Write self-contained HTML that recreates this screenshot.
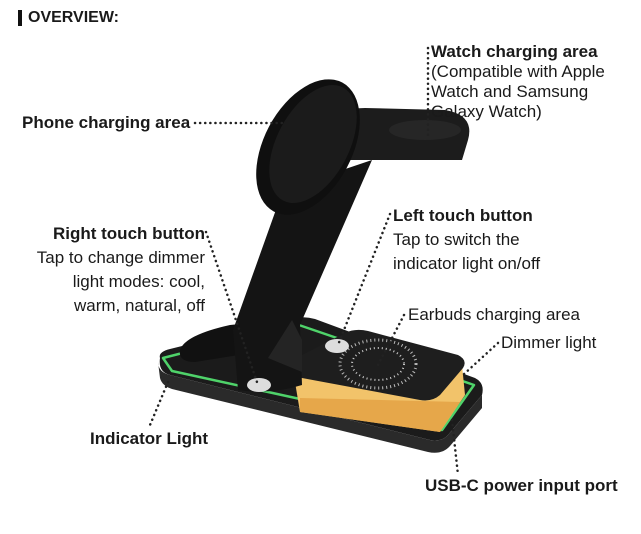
<!DOCTYPE html>
<html><head><style>
body{margin:0;width:641px;height:534px;background:#fff;overflow:hidden;position:relative;font-family:"Liberation Sans",sans-serif;color:#1a1a1a}
.t{position:absolute;font-size:17px;line-height:20px;white-space:nowrap}
.b{font-weight:bold}
.r{text-align:right}
</style></head><body>
<svg width="641" height="534" style="position:absolute;left:0;top:0">
<rect x="18" y="10" width="4" height="16" fill="#111"/>
<!-- base -->
<path d="M160,358 Q158,352 170,349 L295,318 Q305,316 315,319 L475,378 Q485,383 482,395 L448,435 Q442,442 430,440 L170,375 Q158,372 160,358Z" fill="#1b1b1b"/>
<path d="M158,362 L160,378 Q162,386 172,389 L428,452 Q442,455 450,446 L482,408 L482,395 L448,435 Q442,442 430,440 L170,375 Q158,372 158,362Z" fill="#2a2a2a"/>
<path d="M163,358 L296,324 L474,385 L442,430 L172,371Z" fill="none" stroke="#4fd36a" stroke-width="2.5" stroke-linejoin="round"/>
<!-- earbud pad -->
<path d="M293,370 L300,412 L440,432 L465,395 L462,365Z" fill="#f2c36a"/>
<path d="M300,398 L300,412 L440,432 L460,402 Z" fill="#e6a74a"/>
<path d="M293,370 Q292,362 300,356 L345,333 Q355,328 368,331 L458,355 Q468,360 463,368 L440,395 Q432,402 420,400 L302,378 Q294,376 293,370Z" fill="#1e1e1e"/>
<ellipse cx="378" cy="364" rx="38" ry="24" fill="none" stroke="#bbb" stroke-width="3" stroke-dasharray="1 3"/>
<ellipse cx="378" cy="364" rx="26" ry="16" fill="none" stroke="#ccc" stroke-width="2" stroke-dasharray="1 3"/>
<!-- left pod -->
<path d="M180,350 Q185,335 230,325 L260,322 L270,350 L195,362 Q178,362 180,350Z" fill="#111"/>
<!-- watch arm -->
<path d="M330,125 Q340,108 365,108 L445,110 Q475,115 468,140 L462,160 L345,160Z" fill="#1c1c1c"/>
<ellipse cx="425" cy="130" rx="36" ry="10" fill="#262626"/>
<!-- stand column -->
<path d="M283,190 L372,160 L300,325 L302,385 Q270,395 238,390 L233,330Z" fill="#141414"/>
<path d="M292,320 L268,358 L302,372 L302,340Z" fill="#242424"/>
<!-- disc -->
<ellipse cx="308" cy="147" rx="44" ry="73" transform="rotate(28 308 147)" fill="#0f0f0f"/>
<ellipse cx="313" cy="144" rx="36" ry="64" transform="rotate(28 313 144)" fill="#1b1b1b"/>
<!-- buttons -->
<ellipse cx="259" cy="385" rx="12" ry="7" fill="#ddd"/>
<ellipse cx="337" cy="346" rx="12" ry="7" fill="#ddd"/>
<!-- leaders -->
<g stroke="#222" stroke-width="2.5" stroke-dasharray="0.1 5" stroke-linecap="round" fill="none">
<line x1="428" y1="48" x2="428" y2="135"/>
<line x1="195" y1="123" x2="283" y2="123"/>
<line x1="206" y1="232" x2="258" y2="385"/>
<line x1="390" y1="214" x2="338" y2="345"/>
<line x1="404" y1="315" x2="378" y2="365"/>
<line x1="498" y1="343" x2="463" y2="375"/>
<line x1="168" y1="382" x2="150" y2="425"/>
<line x1="452" y1="420" x2="458" y2="475"/>
</g>
</svg>
<div class="t b" style="left:28px;top:8px;font-size:16px">OVERVIEW:</div>
<div class="t" style="left:431px;top:42px"><b>Watch charging area</b><br>(Compatible with Apple<br>Watch and Samsung<br>Galaxy Watch)</div>
<div class="t b" style="left:22px;top:113px">Phone charging area</div>
<div class="t r" style="right:436px;top:222px;line-height:24px"><b>Right touch button</b><br>Tap to change dimmer<br>light modes: cool,<br>warm, natural, off</div>
<div class="t" style="left:393px;top:204px;line-height:24px"><b>Left touch button</b><br>Tap to switch the<br>indicator light on/off</div>
<div class="t" style="left:408px;top:305px">Earbuds charging area</div>
<div class="t" style="left:501px;top:333px">Dimmer light</div>
<div class="t b" style="left:90px;top:429px">Indicator Light</div>
<div class="t b" style="left:425px;top:476px">USB-C power input port</div>
</body></html>
